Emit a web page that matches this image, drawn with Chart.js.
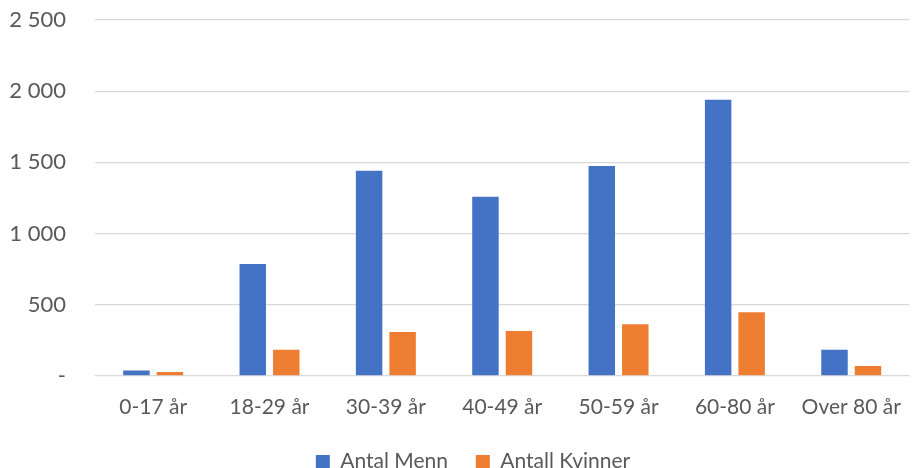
<!DOCTYPE html>
<html>
<head>
<meta charset="utf-8">
<script src="https://cdn.jsdelivr.net/npm/chart.js@4"></script>
<style>
html,body{margin:0;padding:0;background:#fff;}
#wrap{width:920px;height:468px;}
</style>
</head>
<body>
<div id="wrap"><canvas id="c" width="920" height="468"></canvas></div>
<script>
const categories = ["0-17 år", "18-29 år", "30-39 år", "40-49 år", "50-59 år", "60-80 år", "Over 80 år"];
const menn = [38, 786, 1441, 1258, 1474, 1940, 183];
const kvinner = [26, 183, 307, 314, 362, 446, 68];
const seriesNames = ["Antal Menn", "Antall Kvinner"];
const yTicks = [0, 500, 1000, 1500, 2000, 2500];

function fmt(v) {
  if (v === 0) return "-";
  return String(v).replace(/\B(?=(\d{3})+(?!\d))/g, " ");
}

const FONT = "Lato, 'Open Sans', sans-serif";
Chart.defaults.font.family = FONT;
Chart.defaults.color = "#595959";

const shiftLegend = {
  id: "shiftLegend",
  afterLayout(chart) {
    if (chart.legend) { chart.legend.left += 14; chart.legend.right += 14; }
  }
};

new Chart(document.getElementById("c"), {
  type: "bar",
  data: {
    labels: categories,
    datasets: [
      { label: seriesNames[0], data: menn, backgroundColor: "#4472C4", categoryPercentage: 0.576, barPercentage: 0.79 },
      { label: seriesNames[1], data: kvinner, backgroundColor: "#ED7D31", categoryPercentage: 0.576, barPercentage: 0.79 }
    ]
  },
  plugins: [shiftLegend],
  options: {
    responsive: false,
    animation: false,
    layout: { padding: { top: 20, right: 2, left: 0, bottom: -14 } },
    plugins: {
      tooltip: { enabled: false },
      legend: {
        position: "bottom",
        labels: {
          boxWidth: 14, boxHeight: 13, font: { size: 21 }, color: "#595959", padding: 12,
          generateLabels: chart => {
            const items = Chart.defaults.plugins.legend.labels.generateLabels(chart);
            items.forEach((it, i) => { if (i < items.length - 1) it.text = it.text + "\u2003"; });
            return items;
          }
        }
      }
    },
    scales: {
      x: {
        grid: { display: false, drawTicks: false },
        border: { display: false },
        ticks: { font: { size: 21 }, color: "#595959", padding: 19, maxRotation: 0 }
      },
      y: {
        min: 0, max: 2500,
        afterFit: s => { s.width = 95; s.paddingTop = 0; s.paddingBottom = 0; },
        afterBuildTicks: s => { s.ticks = yTicks.map(v => ({ value: v })); },
        grid: { color: "#d9d9d9", lineWidth: 1.3, drawTicks: false },
        border: { display: false },
        ticks: { font: { size: 22 }, color: "#595959", padding: 29, callback: v => fmt(v) }
      }
    }
  }
});
</script>
</body>
</html>
